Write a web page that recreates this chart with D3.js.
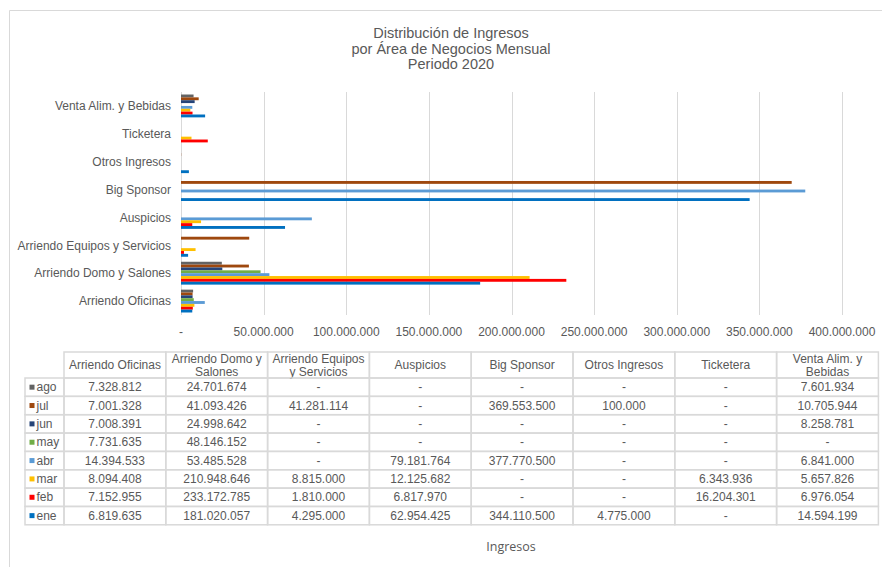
<!DOCTYPE html>
<html lang="es">
<head>
<meta charset="UTF-8">
<title>Distribución de Ingresos</title>
<script src="https://cdn.jsdelivr.net/npm/d3@7"></script>
<style>
  body { margin: 0; background: #fff; }
  svg text { font-family: "Liberation Sans", Arial, sans-serif; fill: #595959; }
</style>
</head>
<body>
<div id="chart"></div>
<script>
// categories (bottom to top in the chart, left to right in the table)
var categories = ["Arriendo Oficinas", "Arriendo Domo y Salones", "Arriendo Equipos y Servicios",
                  "Auspicios", "Big Sponsor", "Otros Ingresos", "Ticketera", "Venta Alim. y Bebidas"];

// table header text, broken the way the table shows it
var headerLines = [["Arriendo Oficinas"], ["Arriendo Domo y", "Salones"], ["Arriendo Equipos", "y Servicios"],
                   ["Auspicios"], ["Big Sponsor"], ["Otros Ingresos"], ["Ticketera"], ["Venta Alim. y", "Bebidas"]];

// months as listed in the table (top to bottom)
var months = ["ago", "jul", "jun", "may", "abr", "mar", "feb", "ene"];

// values per month, same order as categories
var ago = [7328812, 24701674, 0, 0, 0, 0, 0, 7601934];
var jul = [7001328, 41093426, 41281114, 0, 369553500, 100000, 0, 10705944];
var jun = [7008391, 24998642, 0, 0, 0, 0, 0, 8258781];
var may = [7731635, 48146152, 0, 0, 0, 0, 0, 0];
var abr = [14394533, 53485528, 0, 79181764, 377770500, 0, 0, 6841000];
var mar = [8094408, 210948646, 8815000, 12125682, 0, 0, 6343936, 5657826];
var feb = [7152955, 233172785, 1810000, 6817970, 0, 0, 16204301, 6976054];
var ene = [6819635, 181020057, 4295000, 62954425, 344110500, 4775000, 0, 14594199];

var monthColors = ["#636363", "#9E480E", "#264478", "#70AD47", "#5B9BD5", "#FFC000", "#FF0000", "#0070C0"];

var xTicks = [0, 50000000, 100000000, 150000000, 200000000, 250000000, 300000000, 350000000, 400000000];

var series = { ago: ago, jul: jul, jun: jun, may: may, abr: abr, mar: mar, feb: feb, ene: ene };

var width = 882, height = 567;

var svg = d3.select("#chart").append("svg")
    .attr("width", width)
    .attr("height", height);

// chart area border (only top and left are visible)
svg.append("path")
    .attr("d", "M9.5,567 L9.5,10.5 L882,10.5")
    .attr("fill", "none")
    .attr("stroke", "#d9d9d9");

// title
var title = ["Distribución de Ingresos", "por Área de Negocios Mensual", "Periodo 2020"];
svg.append("g").selectAll("text")
    .data(title)
    .enter().append("text")
    .attr("x", 451)
    .attr("y", function(d, i) { return 38 + i * 15.5; })
    .attr("text-anchor", "middle")
    .style("font-size", "14.5px")
    .text(function(d) { return d; });

// spanish number format
var locale = d3.formatLocale({ decimal: ",", thousands: ".", grouping: [3], currency: ["$", ""] });
var fmt = locale.format(",.0f");
function numText(v) { return v === 0 ? "-" : fmt(v); }

// scales
var x = d3.scaleLinear().domain([0, 400000000]).range([181, 842]);

var y = d3.scaleBand()
    .domain(categories.slice().reverse())
    .range([92, 315])
    .paddingInner(0.18)
    .paddingOuter(0.09);

var yInner = d3.scaleBand()
    .domain(months)
    .range([0, y.bandwidth()]);

var color = d3.scaleOrdinal().domain(months).range(monthColors);

// gridlines
svg.append("g").selectAll("line")
    .data(xTicks)
    .enter().append("line")
    .attr("x1", function(d) { return Math.round(x(d)) + 0.5; })
    .attr("x2", function(d) { return Math.round(x(d)) + 0.5; })
    .attr("y1", 92)
    .attr("y2", 315)
    .attr("stroke", "#d9d9d9")
    .attr("stroke-width", 1);

// x tick labels
svg.append("g").selectAll("text")
    .data(xTicks)
    .enter().append("text")
    .attr("x", function(d) { return x(d); })
    .attr("y", 336)
    .attr("text-anchor", "middle")
    .style("font-size", "12px")
    .text(function(d) { return numText(d); });

// category labels
svg.append("g").selectAll("text")
    .data(categories)
    .enter().append("text")
    .attr("x", 171)
    .attr("y", function(d) { return y(d) + y.bandwidth() / 2; })
    .attr("dy", "0.35em")
    .attr("text-anchor", "end")
    .style("font-size", "12px")
    .text(function(d) { return d; });

// bars
var barData = [];
months.forEach(function(m) {
    categories.forEach(function(c, i) {
        barData.push({ month: m, cat: c, value: series[m][i] });
    });
});

svg.append("g").selectAll("rect")
    .data(barData.filter(function(d) { return d.value > 0; }))
    .enter().append("rect")
    .attr("x", x(0))
    .attr("y", function(d) { return y(d.cat) + yInner(d.month); })
    .attr("width", function(d) { return x(d.value) - x(0); })
    .attr("height", yInner.bandwidth())
    .attr("fill", function(d) { return color(d.month); });

// data table
var tLeft = 25, rowHeadW = 39, colW = 101.8;
var headTop = 352, headH = 26, rowH = 18.35;
var tableTop = headTop + headH;
var table = svg.append("g");

// header cells
var head = table.selectAll(".head")
    .data(headerLines)
    .enter().append("g")
    .attr("class", "head")
    .attr("transform", function(d, i) { return "translate(" + (tLeft + rowHeadW + i * colW) + "," + headTop + ")"; });

head.append("rect")
    .attr("width", colW)
    .attr("height", headH)
    .attr("fill", "none")
    .attr("stroke", "#d9d9d9")
    .attr("stroke-width", 1.5);

head.append("text")
    .attr("text-anchor", "middle")
    .style("font-size", "12px")
    .each(function(lines) {
        var el = d3.select(this);
        var y0 = headH / 2 - (lines.length - 1) * 6.5;
        lines.forEach(function(l, i) {
            el.append("tspan")
                .attr("x", colW / 2)
                .attr("y", y0 + i * 13)
                .attr("dy", "0.35em")
                .text(l);
        });
    });

// rows
var rows = table.selectAll(".row")
    .data(months)
    .enter().append("g")
    .attr("class", "row")
    .attr("transform", function(d, i) { return "translate(" + tLeft + "," + (tableTop + i * rowH) + ")"; });

rows.append("rect")
    .attr("width", rowHeadW)
    .attr("height", rowH)
    .attr("fill", "none")
    .attr("stroke", "#d9d9d9")
    .attr("stroke-width", 1.5);

rows.append("rect")
    .attr("x", 4.5)
    .attr("y", rowH / 2 - 2.5)
    .attr("width", 5)
    .attr("height", 5)
    .attr("fill", function(d) { return color(d); });

rows.append("text")
    .attr("x", 11.5)
    .attr("y", rowH / 2)
    .attr("dy", "0.35em")
    .style("font-size", "12px")
    .text(function(d) { return d; });

rows.each(function(m) {
    var g = d3.select(this);
    var cells = g.selectAll(".cell")
        .data(series[m])
        .enter().append("g")
        .attr("class", "cell")
        .attr("transform", function(d, i) { return "translate(" + (rowHeadW + i * colW) + ",0)"; });
    cells.append("rect")
        .attr("width", colW)
        .attr("height", rowH)
        .attr("fill", "none")
        .attr("stroke", "#d9d9d9")
        .attr("stroke-width", 1.5);
    cells.append("text")
        .attr("x", colW / 2)
        .attr("y", rowH / 2)
        .attr("dy", "0.35em")
        .attr("text-anchor", "middle")
        .style("font-size", "12px")
        .text(function(d) { return numText(d); });
});

// axis title
svg.append("text")
    .attr("x", 511)
    .attr("y", 551)
    .attr("text-anchor", "middle")
    .style("font-family", "'Open Sans', sans-serif")
    .style("font-size", "12.5px")
    .text("Ingresos");
</script>
</body>
</html>
